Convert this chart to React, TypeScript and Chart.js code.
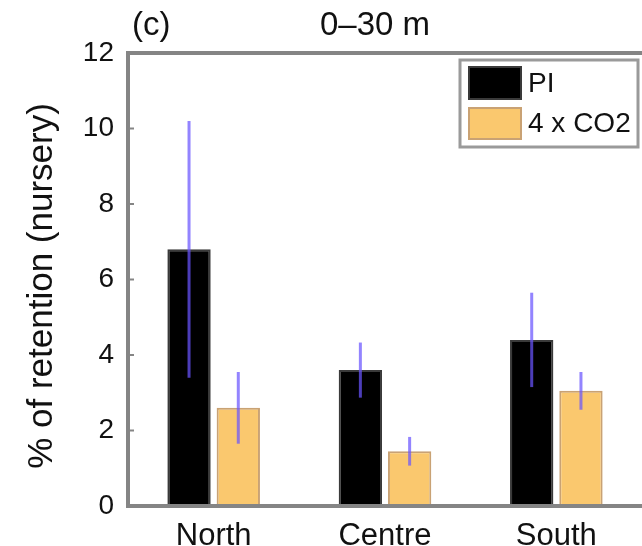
import React, { useEffect, useRef } from "react";
import { Chart, registerables } from "chart.js";

Chart.register(...registerables);

const categories = ["North", "Centre", "South"];
const seriesNames = ["PI", "4 x CO2"];
const piValues = [6.8, 3.6, 4.4];
const piErrors = [3.4, 0.73, 1.25];
const co2Values = [2.6, 1.45, 3.05];
const co2Errors = [0.95, 0.38, 0.5];
const yTickValues = [0, 2, 4, 6, 8, 10, 12];
const panelLabel = "(c)";
const titleText = "0–30 m";
const yAxisLabel = "% of retention (nursery)";

const FONT = "'Liberation Sans', Arial, Helvetica, sans-serif";
const PI_FILL = "#000000";
const PI_BORDER = "#3a3a3a";
const CO2_FILL = "#fac86e";
const CO2_BORDER = "#c9a274";
const ERR_COLOR = "rgba(105, 85, 255, 0.72)";
const FRAME = "#858585";

const errorBarsPlugin = {
  id: "errorBars",
  afterDatasetsDraw(chart: any) {
    const ctx = chart.ctx;
    const yScale = chart.scales.y;
    chart.data.datasets.forEach((ds: any, i: number) => {
      const meta = chart.getDatasetMeta(i);
      const errs: number[] = ds.errors || [];
      meta.data.forEach((bar: any, j: number) => {
        const v = ds.data[j];
        const e = errs[j];
        if (e == null) return;
        const yTop = yScale.getPixelForValue(v + e);
        const yBot = yScale.getPixelForValue(v - e);
        ctx.save();
        ctx.strokeStyle = ERR_COLOR;
        ctx.lineWidth = 3;
        ctx.beginPath();
        ctx.moveTo(bar.x, yTop);
        ctx.lineTo(bar.x, yBot);
        ctx.stroke();
        ctx.restore();
      });
    });
  },
};

const decorPlugin = {
  id: "decor",
  afterDatasetsDraw(chart: any) {
    const ctx = chart.ctx;
    const a = chart.chartArea;
    const yScale = chart.scales.y;
    ctx.save();
    // frame
    ctx.strokeStyle = FRAME;
    ctx.lineWidth = 4;
    ctx.beginPath();
    ctx.moveTo(a.right + 4, a.top);
    ctx.lineTo(a.left, a.top);
    ctx.lineTo(a.left, a.bottom);
    ctx.lineTo(a.right + 4, a.bottom);
    ctx.stroke();
    // small inward ticks
    ctx.lineWidth = 2;
    yTickValues.forEach((t) => {
      const y = yScale.getPixelForValue(t);
      ctx.beginPath();
      ctx.moveTo(a.left, y);
      ctx.lineTo(a.left + 6, y);
      ctx.stroke();
    });
    // titles
    ctx.fillStyle = "#111";
    ctx.font = `33px ${FONT}`;
    ctx.textBaseline = "middle";
    ctx.textAlign = "left";
    ctx.fillText(panelLabel, 132, 26);
    ctx.fillText(titleText, 320, 26);
    // y label
    ctx.save();
    ctx.translate(42, 286);
    ctx.rotate(-Math.PI / 2);
    ctx.textAlign = "center";
    ctx.font = `35px ${FONT}`;
    ctx.fillText(yAxisLabel, 0, 0);
    ctx.restore();
    // legend
    const lx = 460, ly = 60, lw = 178, lh = 87;
    ctx.fillStyle = "#ffffff";
    ctx.fillRect(lx, ly, lw, lh);
    ctx.strokeStyle = "#9a9a9a";
    ctx.lineWidth = 3;
    ctx.strokeRect(lx, ly, lw, lh);
    const sw = [
      { y: 66, h: 34, fill: PI_FILL, border: PI_BORDER, label: seriesNames[0] },
      { y: 107, h: 33, fill: CO2_FILL, border: CO2_BORDER, label: seriesNames[1] },
    ];
    sw.forEach((s) => {
      ctx.fillStyle = s.fill;
      ctx.fillRect(468, s.y, 54, s.h);
      ctx.strokeStyle = s.border;
      ctx.lineWidth = 2;
      ctx.strokeRect(469, s.y + 1, 52, s.h - 2);
      ctx.fillStyle = "#111";
      ctx.font = `28px ${FONT}`;
      ctx.textAlign = "left";
      ctx.textBaseline = "middle";
      ctx.fillText(s.label, 528, s.y + s.h / 2 + 1);
    });
    ctx.restore();
  },
};

export default function App() {
  const ref = useRef<HTMLCanvasElement | null>(null);
  useEffect(() => {
    document.body.style.margin = "0";
    const canvas = ref.current;
    if (!canvas) return;
    const chart = new Chart(canvas, {
      type: "bar",
      data: {
        labels: categories,
        datasets: [
          {
            label: seriesNames[0],
            data: piValues,
            errors: piErrors,
            backgroundColor: PI_FILL,
            borderColor: PI_BORDER,
            borderWidth: 2,
            categoryPercentage: 0.575,
            barPercentage: 0.88,
          } as any,
          {
            label: seriesNames[1],
            data: co2Values,
            errors: co2Errors,
            backgroundColor: CO2_FILL,
            borderColor: CO2_BORDER,
            borderWidth: 2,
            categoryPercentage: 0.575,
            barPercentage: 0.88,
          } as any,
        ],
      },
      options: {
        responsive: false,
        animation: false,
        layout: { padding: { top: 53, right: 0, left: 0, bottom: 0 } },
        plugins: {
          legend: { display: false },
          tooltip: { enabled: false },
          title: { display: false },
        },
        scales: {
          x: {
            grid: { display: false, drawTicks: false },
            border: { display: false },
            ticks: {
              color: "#111",
              font: { family: FONT, size: 31 },
              padding: 12,
            },
            afterFit: (s: any) => {
              s.height = 40;
            },
          },
          y: {
            min: 0,
            max: 12,
            grid: { display: false, drawTicks: false },
            border: { display: false },
            ticks: {
              stepSize: 2,
              color: "#111",
              font: { family: FONT, size: 28 },
              padding: 14,
            },
            afterFit: (s: any) => {
              s.width = 128;
            },
          },
        },
      },
      plugins: [errorBarsPlugin, decorPlugin],
    } as any);
    return () => chart.destroy();
  }, []);
  return (
    <div style={{ width: 642, height: 546, background: "#fff" }}>
      <canvas ref={ref} width={642} height={546} />
    </div>
  );
}
